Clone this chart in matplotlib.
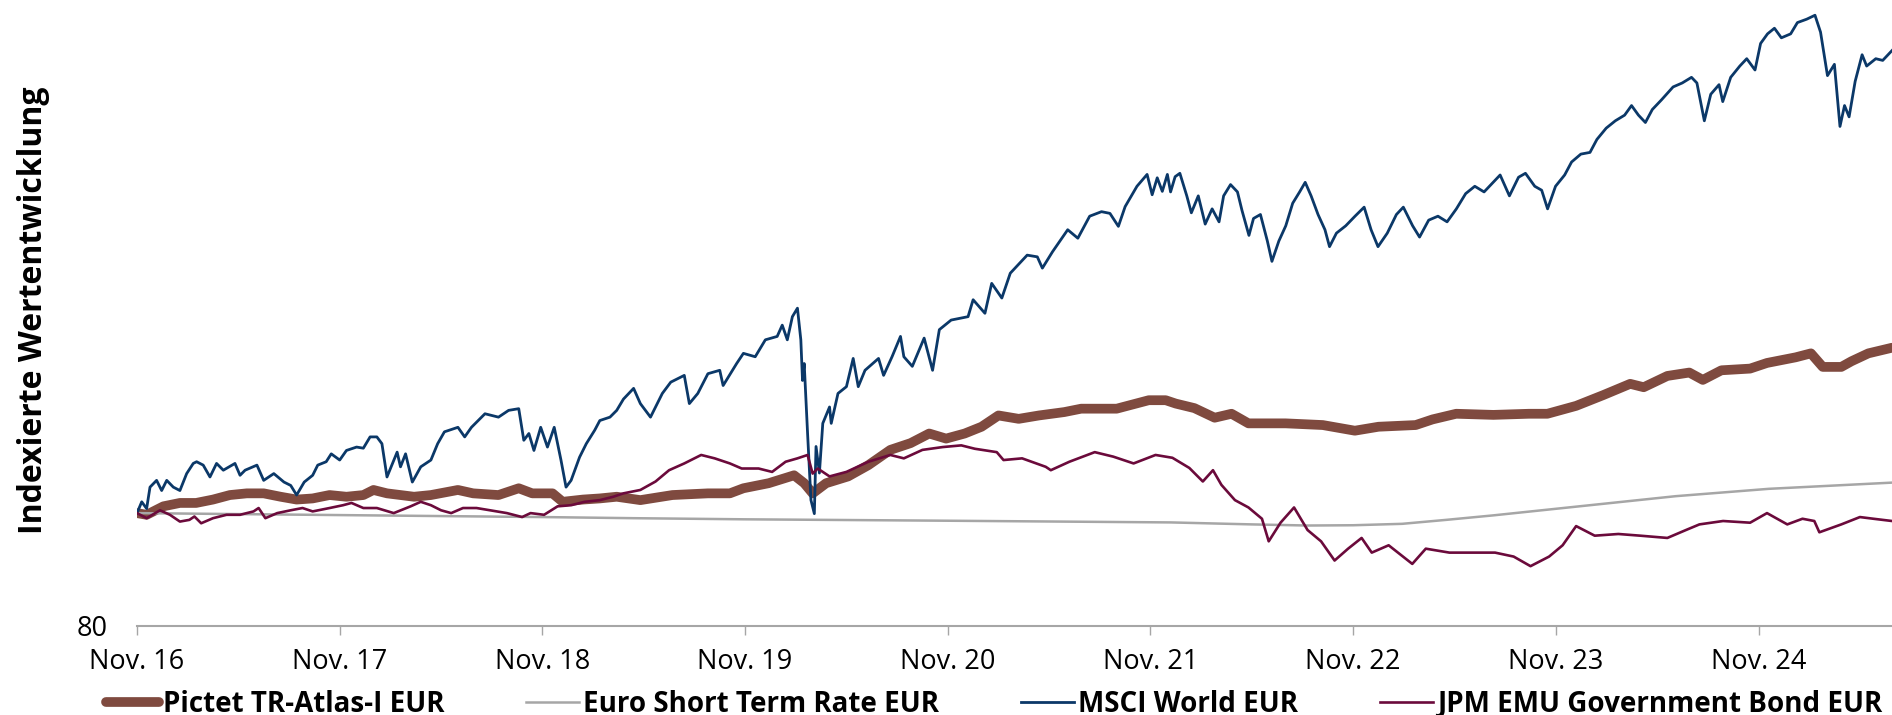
import matplotlib
matplotlib.use("Agg")
import matplotlib.pyplot as plt

# months since the "Nov. 16" start
tick_months = [0, 12, 24, 36, 48, 60, 72, 84, 96]
tick_labels = ["Nov. 16", "Nov. 17", "Nov. 18", "Nov. 19", "Nov. 20",
               "Nov. 21", "Nov. 22", "Nov. 23", "Nov. 24"]

msci_months = [0, 0.28, 0.57, 0.77, 1.16, 1.46, 1.76, 2.15, 2.54, 2.94, 3.33, 3.53, 3.92,
               4.32, 4.71, 5.11, 5.8, 6.1, 6.4, 7.1, 7.5, 8.1, 8.7, 9.1, 9.45, 9.9, 10.4,
               10.7, 11.2, 11.5, 12.0, 12.4, 13.0, 13.4, 13.8, 14.2, 14.5, 14.8, 15.4, 15.6,
               15.9, 16.3, 16.8, 17.4, 17.8, 18.2, 19.0, 19.4, 19.8, 20.6, 21.4, 22.0, 22.6,
               22.9, 23.2, 23.5, 23.9, 24.3, 24.7, 25.1, 25.4, 25.7, 26.2, 26.6, 27.1, 27.4,
               28.0, 28.4, 28.8, 29.4, 29.8, 30.4, 31.1, 31.6, 32.4, 32.7, 33.2, 33.8, 34.5,
               34.7, 35.5, 35.9, 36.6, 37.2, 37.9, 38.2, 38.5, 38.8, 39.1, 39.3, 39.4, 39.5,
               39.7, 39.9, 40.1, 40.2, 40.4, 40.6, 41.0, 41.1, 41.5, 42.0, 42.4, 42.7, 43.1,
               43.9, 44.2, 44.7, 45.2, 45.4, 45.9, 46.6, 47.1, 47.5, 48.2, 49.2, 49.5, 50.2,
               50.6, 51.2, 51.7, 52.7, 53.3, 53.6, 54.2, 55.1, 55.7, 56.4, 57.1, 57.6, 58.1,
               58.5, 59.2, 59.8, 60.1, 60.4, 60.7, 61.0,
               61.19, 61.46, 61.74, 62.15, 62.42, 62.83, 63.24, 63.65, 64.06, 64.33, 64.74,
               65.15, 65.42, 65.83, 66.1, 66.51, 66.92, 67.19, 67.6, 68.01, 68.42, 68.83,
               69.16, 69.51, 69.92, 70.33, 70.6, 71.01, 71.56, 72.11, 72.65, 73.06, 73.47,
               74.02, 74.56, 74.97, 75.52, 75.93, 76.47, 77.02, 77.56, 78.11, 78.66, 79.2,
               79.75, 80.29, 80.7, 81.25, 81.79, 82.2, 82.75, 83.16, 83.51, 83.98, 84.52,
               84.93, 85.48, 86.02, 86.43, 86.98, 87.52, 88.07, 88.48, 88.89, 89.3, 89.71,
               90.25, 90.94, 91.48, 92.03, 92.35, 92.79, 93.17, 93.66, 93.88, 94.35, 94.89,
               95.3, 95.79, 96.12, 96.53, 96.94, 97.35, 97.9, 98.3, 98.85, 99.34, 99.67,
               100.08, 100.49, 100.82, 101.09, 101.36, 101.72, 102.13, 102.4, 102.94, 103.35,
               103.98]
msci_values = [100.0, 102.0, 100.8, 104.6, 105.8, 104.0, 105.8, 104.6, 104.0, 107.0, 108.8,
               109.1, 108.5, 106.4, 108.8, 107.6, 108.8, 106.7, 107.6, 108.5, 105.8, 107.0,
               105.5, 104.9, 103.2, 105.5, 106.7, 108.5, 109.1, 110.5, 109.4, 111.1, 111.7,
               111.5, 113.5, 113.5, 112.3, 106.4, 110.8, 108.2, 110.5, 105.5, 108.2, 109.4,
               112.3, 114.4, 115.2, 113.5, 115.2, 117.6, 117.0, 118.2, 118.5, 112.9, 114.1,
               111.1, 115.2, 111.7, 115.2, 109.4, 104.6, 105.8, 109.9, 112.3, 114.7, 116.4,
               117.0, 118.2, 120.2, 122.1, 119.4, 117.0, 121.2, 123.2, 124.4, 119.4, 121.2,
               124.7, 125.3, 122.6, 126.5, 128.3, 127.7, 130.7, 131.3, 133.3, 130.7, 134.8,
               136.3, 130.7, 123.5, 126.5, 114.1, 102.3, 99.9, 111.8, 107.1, 115.9, 118.8,
               115.9, 121.2, 122.4, 127.4, 122.4, 125.3, 127.4, 124.4, 127.7, 131.3, 127.7,
               126.0, 131.0, 125.3, 132.5, 134.2, 134.8, 137.8, 135.4, 140.7, 138.1, 142.5,
               145.7, 145.4, 143.4, 146.3, 150.2, 148.7, 152.6, 153.4, 153.1, 150.8, 154.3,
               157.9, 160.0, 156.4, 159.4, 157.0, 160.0,
               156.9, 159.6, 160.2, 156.2, 153.2, 156.2, 151.2, 153.9, 151.6, 156.2, 158.2,
               156.9, 153.6, 149.2, 152.2, 152.9, 148.2, 144.6, 148.2, 150.9, 154.9, 156.9,
               158.6, 156.2, 152.9, 150.2, 147.2, 149.6, 150.9, 152.6, 154.2, 150.2, 147.2,
               149.6, 152.9, 154.2, 150.9, 148.9, 151.9, 152.6, 151.6, 153.9, 156.6, 157.9,
               156.9, 158.6, 159.9, 156.2, 159.5, 160.2, 157.9, 157.2, 153.9, 157.9, 159.9,
               162.2, 163.6, 163.9, 166.2, 168.2, 169.5, 170.5, 172.2, 170.5, 169.2, 171.5,
               173.2, 175.5, 176.2, 177.2, 176.2, 169.5, 174.2, 175.9, 172.9, 177.2, 179.2,
               180.5, 178.5, 183.2, 184.9, 185.9, 184.2, 184.9, 186.9, 187.5, 188.2, 185.2,
               177.5, 179.5, 168.5, 172.2, 170.2, 176.5, 181.2, 179.2, 180.5, 180.2,
               182.2]

pictet_months = [0, 0.57, 1.56, 2.54, 3.5, 4.5, 5.5, 6.5, 7.5, 8.5, 9.45, 10.4, 11.4, 12.4,
                 13.4, 14.0, 14.8, 16.4, 17.4, 19.0, 19.9, 21.4, 22.6, 23.4, 24.6, 25.2, 26.4,
                 27.4, 28.4, 29.8, 31.7, 33.8, 35.1, 35.9, 37.4, 38.9, 39.5, 40.0, 40.8, 42.1,
                 43.3, 44.6, 45.8, 46.9, 47.9, 49.0, 50.0, 51.0, 52.2, 53.4, 54.9, 55.9, 58.0,
                 59.9, 60.9, 61.5, 62.6, 63.8, 64.8, 65.8, 68.0, 70.2, 72.1, 73.5, 75.7, 76.7,
                 78.1, 80.3, 82.4, 83.5, 85.2, 86.8, 88.4, 89.2, 90.6, 91.9, 92.7, 93.8, 95.5,
                 96.5, 98.2, 99.1, 99.8, 100.9, 101.5, 102.5, 103.9]
pictet_values = [100.0, 99.7, 101.2, 101.8, 101.8, 102.4, 103.2, 103.5, 103.5, 102.9, 102.4,
                 102.6, 103.2, 102.9, 103.2, 104.1, 103.5, 102.9, 103.2, 104.1, 103.5, 103.2,
                 104.4, 103.5, 103.5, 102.0, 102.4, 102.6, 102.9, 102.3, 103.2, 103.5, 103.5,
                 104.4, 105.3, 106.7, 105.3, 103.5, 105.3, 106.5, 108.5, 111.2, 112.4, 114.1,
                 113.2, 114.1, 115.3, 117.3, 116.7, 117.3, 117.9, 118.5, 118.5, 120.0, 120.0,
                 119.4, 118.6, 116.9, 117.6, 115.9, 115.9, 115.6, 114.6, 115.3, 115.6, 116.6,
                 117.6, 117.4, 117.6, 117.6, 119.0, 120.9, 122.9, 122.3, 124.3, 124.9, 123.6,
                 125.3, 125.6, 126.6, 127.6, 128.3, 125.9, 125.9, 126.9, 128.3, 129.3]

estr_months = [0, 12, 24, 29.4, 36, 48, 61.2, 66, 69.3, 72, 74.9, 77.5, 80.3, 85.7, 91.1,
               96.6, 103.9]
estr_values = [100.0, 99.65, 99.3, 99.1, 98.9, 98.65, 98.35, 98.0, 97.8, 97.85, 98.1, 98.8,
               99.6, 101.3, 103.0, 104.3, 105.4]

jpm_months = [0, 0.57, 1.36, 1.95, 2.54, 3.1, 3.4, 3.8, 4.5, 5.3, 6.1, 6.9, 7.2, 7.6, 8.3,
              9.1, 9.8, 10.4, 11.4, 12.2, 12.7, 13.4, 14.2, 15.2, 16.2, 16.8, 17.4, 18.0,
              18.6, 19.3, 20.1, 20.9, 21.9, 22.8, 23.3, 24.1, 24.9, 25.7, 26.5, 27.4, 28.2,
              28.8, 29.8, 30.7, 31.5, 32.4, 33.4, 34.2, 35.1, 35.8, 36.8, 37.6, 38.4, 39.1,
              39.7, 40.0, 40.3, 41.0, 42.0, 43.3, 44.6, 45.4, 46.5, 47.7, 48.8, 49.6, 50.9,
              51.3, 52.4, 53.8, 54.1, 55.2, 56.7, 57.8, 59.0, 60.3, 60.9, 61.3, 62.3, 63.1,
              63.7, 64.2, 65.0, 65.8, 66.6, 67.0, 67.7, 68.5, 69.3, 70.1, 70.9, 71.7, 72.5,
              73.1, 74.1, 75.5, 76.3, 77.7, 79.0, 80.4, 81.5, 82.5, 83.6, 84.4, 85.2, 86.3,
              87.7, 89.0, 90.6, 91.7, 92.5, 93.9, 95.5, 96.5, 97.7, 98.6, 99.3, 99.6, 100.9,
              102.0, 102.8, 103.9]
jpm_values = [100.0, 99.1, 100.5, 99.7, 98.5, 98.8, 99.4, 98.2, 99.1, 99.7, 99.7, 100.3,
              100.9, 99.1, 100.0, 100.5, 100.9, 100.3, 100.9, 101.4, 101.8, 100.9, 100.9,
              100.0, 101.2, 102.0, 101.4, 100.5, 100.0, 100.9, 100.9, 100.5, 100.0, 99.3,
              100.0, 99.7, 101.2, 101.4, 102.0, 102.3, 102.9, 103.5, 104.1, 105.6, 107.6,
              108.8, 110.3, 109.7, 108.8, 107.9, 107.9, 107.3, 109.1, 109.7, 110.3, 107.0,
              107.9, 106.5, 107.3, 109.1, 110.3, 109.7, 111.2, 111.7, 112.0, 111.4, 110.8,
              109.4, 109.7, 108.2, 107.6, 109.1, 110.8, 110.0, 108.8, 110.3, 110.0, 109.8,
              108.0, 105.6, 107.6, 105.0, 102.3, 101.0, 99.0, 95.0, 98.3, 101.0, 97.0, 95.0,
              91.6, 93.7, 95.6, 93.0, 94.3, 91.0, 93.7, 93.0, 93.0, 93.0, 92.3, 90.6, 92.3,
              94.3, 97.7, 96.0, 96.3, 96.0, 95.6, 97.0, 98.0, 98.6, 98.3, 100.0, 98.0, 99.0,
              98.6, 96.6, 98.0, 99.3, 99.0, 98.6]

names = ["Pictet TR-Atlas-I EUR", "Euro Short Term Rate EUR", "MSCI World EUR",
         "JPM EMU Government Bond EUR"]

plt.rcParams["font.family"] = ["Open Sans", "DejaVu Sans"]

fig = plt.figure(figsize=(18.92, 7.15), dpi=100)
ax = fig.add_axes([137 / 1892, 89 / 715, 1 - 137 / 1892, 1 - 89 / 715])

ax.plot(pictet_months, pictet_values, color="#7f4a3f", lw=7, solid_capstyle="round",
        solid_joinstyle="round", label=names[0])
ax.plot(estr_months, estr_values, color="#a6a6a6", lw=1.8, label=names[1])
ax.plot(msci_months, msci_values, color="#0b3868", lw=2.0, label=names[2])
ax.plot(jpm_months, jpm_values, color="#6b0a3b", lw=1.9, label=names[3])

ax.set_xlim(0, 103.9)
ax.set_ylim(80, 190.9)

for s in ["top", "right", "left"]:
    ax.spines[s].set_visible(False)
ax.spines["bottom"].set_color("#a6a6a6")
ax.spines["bottom"].set_linewidth(1.5)

ax.set_xticks(tick_months)
ax.set_xticklabels(tick_labels, fontsize=19.5)
ax.tick_params(axis="x", length=6.5, width=1.0, color="#a6a6a6", pad=9)
ax.set_yticks([80])
ax.set_yticklabels(["80"], fontsize=19.5)
ax.tick_params(axis="y", length=0, pad=21)

fig.text(34 / 1892, 1 - 310 / 715, "Indexierte Wertentwicklung", rotation=90,
         fontsize=23, fontweight="bold", ha="center", va="center")

fig.legend(loc="center left", bbox_to_anchor=(106 / 1892, 11 / 715), ncol=4,
           frameon=False, prop={"weight": "bold", "size": 20},
           handlelength=1.9, handletextpad=0.15, columnspacing=2.95, borderpad=0,
           borderaxespad=0)

fig.savefig("out.png", dpi=100)
